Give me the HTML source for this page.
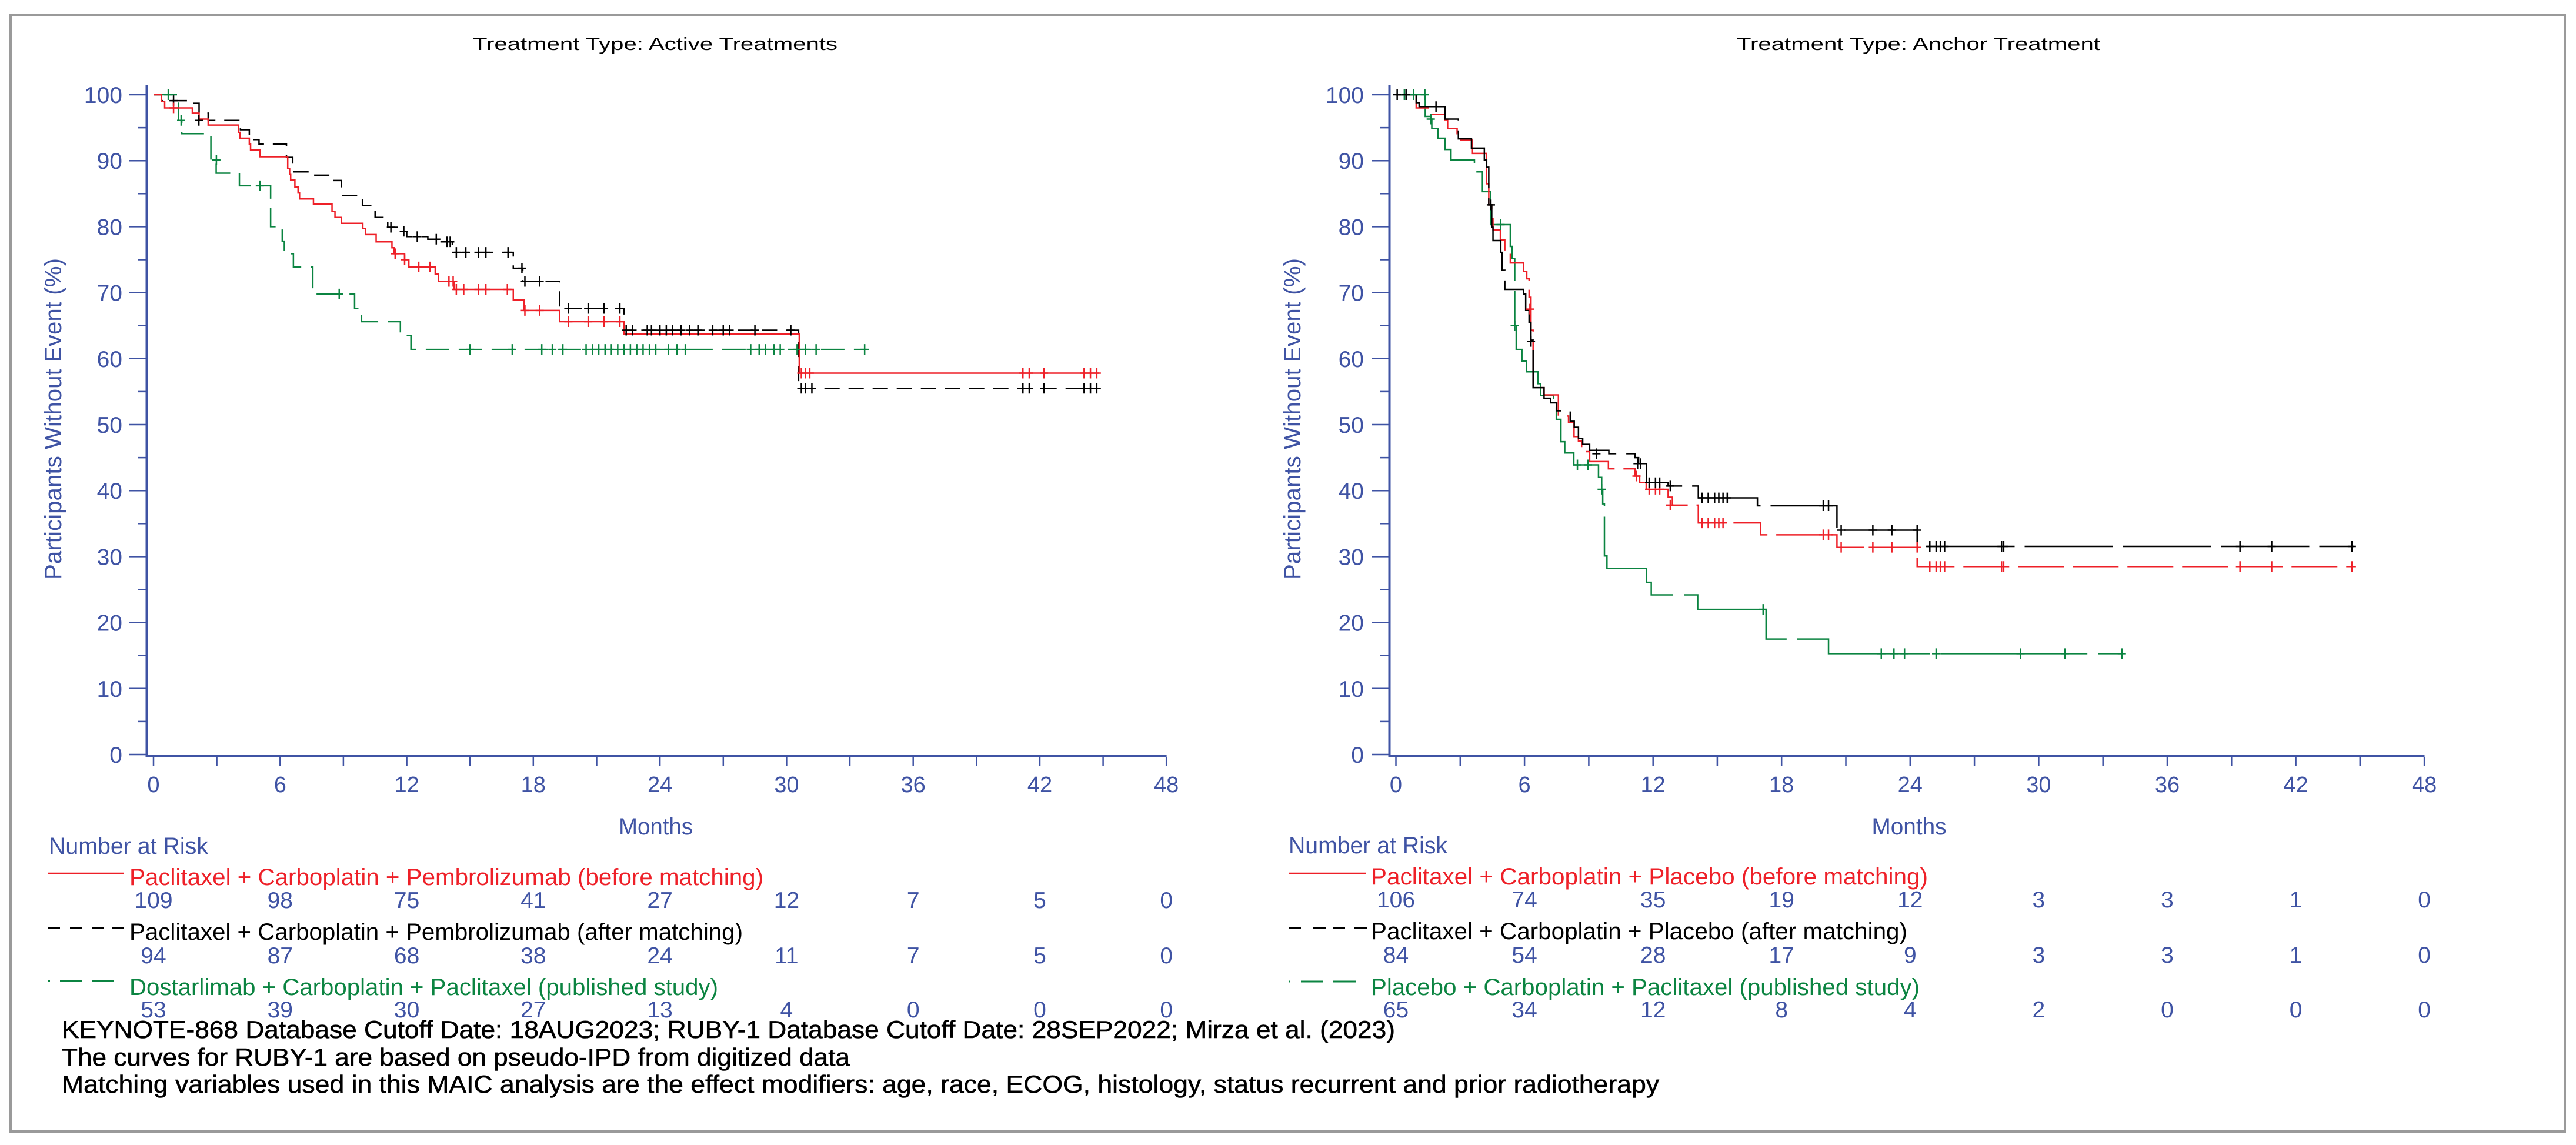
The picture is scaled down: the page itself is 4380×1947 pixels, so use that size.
<!DOCTYPE html>
<html><head><meta charset="utf-8"><style>html,body{margin:0;padding:0;background:#fff}svg{display:block}</style></head>
<body>
<svg xmlns="http://www.w3.org/2000/svg" width="4380" height="1947" viewBox="0 0 4380 1947" font-family="'Liberation Sans', Arial, sans-serif">
<rect width="4380" height="1947" fill="#fff"/>
<rect x="18" y="26" width="4343" height="1898" fill="none" stroke="#9a9a9a" stroke-width="4"/>

<!-- Titles -->
<text x="1114" y="85" font-size="31" text-anchor="middle" textLength="620" lengthAdjust="spacingAndGlyphs" fill="#000">Treatment Type: Active Treatments</text>
<text x="3262" y="85" font-size="31" text-anchor="middle" textLength="618" lengthAdjust="spacingAndGlyphs" fill="#000">Treatment Type: Anchor Treatment</text>

<!-- Y-axis titles -->
<text transform="translate(104,712.5) rotate(-90)" text-anchor="middle" font-size="40" fill="#3F53A4" textLength="547" lengthAdjust="spacingAndGlyphs">Participants Without Event (%)</text>
<text transform="translate(2211,712.5) rotate(-90)" text-anchor="middle" font-size="40" fill="#3F53A4" textLength="547" lengthAdjust="spacingAndGlyphs">Participants Without Event (%)</text>

<!-- Axes -->
<g stroke="#3F53A4" fill="none">
  <path d="M249.5,145V1288M247.5,1286H1983.6" stroke-width="4"/>
  <path d="M2362.5,145V1288M2360.5,1286H4122.5" stroke-width="4"/>
  <path stroke-width="2.5" d="M220,1283H247.5M220,1170.8H247.5M220,1058.6H247.5M220,946.4H247.5M220,834.2H247.5M220,722H247.5M220,609.8H247.5M220,497.6H247.5M220,385.4H247.5M220,273.2H247.5M220,161H247.5
  M235,1226.9H247.5M235,1114.7H247.5M235,1002.5H247.5M235,890.3H247.5M235,778.1H247.5M235,665.9H247.5M235,553.7H247.5M235,441.5H247.5M235,329.3H247.5M235,217.1H247.5"/>
  <path stroke-width="2.5" d="M2333,1283H2360.5M2333,1170.8H2360.5M2333,1058.6H2360.5M2333,946.4H2360.5M2333,834.2H2360.5M2333,722H2360.5M2333,609.8H2360.5M2333,497.6H2360.5M2333,385.4H2360.5M2333,273.2H2360.5M2333,161H2360.5
  M2346,1226.9H2360.5M2346,1114.7H2360.5M2346,1002.5H2360.5M2346,890.3H2360.5M2346,778.1H2360.5M2346,665.9H2360.5M2346,553.7H2360.5M2346,441.5H2360.5M2346,329.3H2360.5M2346,217.1H2360.5"/>
  <path stroke-width="2.5" d="M261,1288V1302M368.6,1288V1302M476.3,1288V1302M583.9,1288V1302M691.6,1288V1302M799.2,1288V1302M906.8,1288V1302M1014.5,1288V1302M1122.1,1288V1302M1229.8,1288V1302M1337.4,1288V1302M1445,1288V1302M1552.7,1288V1302M1660.3,1288V1302M1768,1288V1302M1875.6,1288V1302M1983.2,1288V1302"/>
  <path stroke-width="2.5" d="M2373.5,1288V1302M2482.8,1288V1302M2592.1,1288V1302M2701.4,1288V1302M2810.7,1288V1302M2919.9,1288V1302M3029.2,1288V1302M3138.5,1288V1302M3247.8,1288V1302M3357.1,1288V1302M3466.4,1288V1302M3575.7,1288V1302M3685,1288V1302M3794.3,1288V1302M3903.6,1288V1302M4012.8,1288V1302M4122.1,1288V1302"/>
</g>

<!-- Y tick labels -->
<g font-size="39" fill="#3F53A4" text-anchor="end">
  <text x="208" y="1297">0</text><text x="208" y="1184.8">10</text><text x="208" y="1072.6">20</text><text x="208" y="960.4">30</text><text x="208" y="848.2">40</text><text x="208" y="736">50</text><text x="208" y="623.8">60</text><text x="208" y="511.6">70</text><text x="208" y="399.4">80</text><text x="208" y="287.2">90</text><text x="208" y="175">100</text>
  <text x="2319" y="1297">0</text><text x="2319" y="1184.8">10</text><text x="2319" y="1072.6">20</text><text x="2319" y="960.4">30</text><text x="2319" y="848.2">40</text><text x="2319" y="736">50</text><text x="2319" y="623.8">60</text><text x="2319" y="511.6">70</text><text x="2319" y="399.4">80</text><text x="2319" y="287.2">90</text><text x="2319" y="175">100</text>
</g>

<!-- X tick labels -->
<g font-size="38" fill="#3F53A4" text-anchor="middle">
  <text x="261" y="1347">0</text><text x="476.3" y="1347">6</text><text x="691.6" y="1347">12</text><text x="906.8" y="1347">18</text><text x="1122.1" y="1347">24</text><text x="1337.4" y="1347">30</text><text x="1552.7" y="1347">36</text><text x="1768" y="1347">42</text><text x="1983.2" y="1347">48</text>
  <text x="2373.5" y="1347">0</text><text x="2592.1" y="1347">6</text><text x="2810.7" y="1347">12</text><text x="3029.2" y="1347">18</text><text x="3247.8" y="1347">24</text><text x="3466.4" y="1347">30</text><text x="3685" y="1347">36</text><text x="3903.6" y="1347">42</text><text x="4122.1" y="1347">48</text>
</g>

<!-- Months -->
<text x="1115" y="1419" font-size="40" fill="#3F53A4" text-anchor="middle" textLength="126" lengthAdjust="spacingAndGlyphs">Months</text>
<text x="3246" y="1419" font-size="40" fill="#3F53A4" text-anchor="middle" textLength="127" lengthAdjust="spacingAndGlyphs">Months</text>

<!-- LEFT curves -->
<g transform="translate(261,1283) scale(35.88,-11.22)" fill="none" stroke-width="2.5">
  <path vector-effect="non-scaling-stroke" stroke="#0B8441" stroke-dasharray="40 16" d="M0,100H1.19V96.1H1.34V94.1H2.72V90.1H2.97V88.1H4.07V86.2H5.55V80H6.1V77.8H6.2V75.9H6.63V73.9H7.55V69.8H9.53V67.6H9.86V65.6H11.7V63.5H12.2V61.4H33.8"/>
  <path vector-effect="non-scaling-stroke" stroke="#000" stroke-dasharray="26 15" d="M0,100H0.38V99.1H1.75V98.7H2.16V97.2H2.59V96.1H4.12V94.7H4.54V93.2H5V92.5H6.3V90.5H6.6V88.3H7.4V87.8H8.3V87H8.9V84.7H9.9V83.2H10.5V81.4H11.1V79.9H11.6V79.3H12V78.5H13V78.1H13.5V77.7H14.16V76.1H17.05V73.7H17.5V71.7H19.25V67.6H22.3V64.3H30.57V55.5H44.8"/>
  <path vector-effect="non-scaling-stroke" stroke="#EE2028" d="M0,100H0.38V99H0.53V98H1.84V97.2H2.16V96.3H2.59V95.4H4.02V94.3H4.1V93.4H4.54V92.5H4.6V91.6H5.05V90.6H6.36V88.8H6.45V87.9H6.5V87.1H6.7V86H6.85V85.1H6.92V84.2H7.58V83.4H8.46V82.3H8.6V81.4H8.9V80.5H9.92V79.7H10.05V78.8H10.55V77.7H11.3V76.8H11.4V75.9H11.9V75H12.1V73.9H13.35V72.8H13.5V71.7H14.25V70.5H17.05V68.9H17.56V67.3H19.25V65.6H22.3V63.7H30.6V57.8H44.8"/>
  <path vector-effect="non-scaling-stroke" stroke="#0B8441" d="M0.7,100m-.195,0h.39m-.195,-.8v1.6M1.31,96.1m-.195,0h.39m-.195,-.8v1.6M2.98,90.1m-.195,0h.39m-.195,-.8v1.6M5.04,86.2m-.195,0h.39m-.195,-.8v1.6M8.8,69.8m-.195,0h.39m-.195,-.8v1.6M15,61.4m-.195,0h.39m-.195,-.8v1.6M17,61.4m-.195,0h.39m-.195,-.8v1.6M18.4,61.4m-.195,0h.39m-.195,-.8v1.6M18.9,61.4m-.195,0h.39m-.195,-.8v1.6M19.4,61.4m-.195,0h.39m-.195,-.8v1.6M20.5,61.4m-.195,0h.39m-.195,-.8v1.6M20.8,61.4m-.195,0h.39m-.195,-.8v1.6M21.1,61.4m-.195,0h.39m-.195,-.8v1.6M21.4,61.4m-.195,0h.39m-.195,-.8v1.6M21.7,61.4m-.195,0h.39m-.195,-.8v1.6M22,61.4m-.195,0h.39m-.195,-.8v1.6M22.3,61.4m-.195,0h.39m-.195,-.8v1.6M22.6,61.4m-.195,0h.39m-.195,-.8v1.6M22.9,61.4m-.195,0h.39m-.195,-.8v1.6M23.2,61.4m-.195,0h.39m-.195,-.8v1.6M23.5,61.4m-.195,0h.39m-.195,-.8v1.6M23.8,61.4m-.195,0h.39m-.195,-.8v1.6M24.4,61.4m-.195,0h.39m-.195,-.8v1.6M24.8,61.4m-.195,0h.39m-.195,-.8v1.6M25.2,61.4m-.195,0h.39m-.195,-.8v1.6M28.3,61.4m-.195,0h.39m-.195,-.8v1.6M28.7,61.4m-.195,0h.39m-.195,-.8v1.6M29,61.4m-.195,0h.39m-.195,-.8v1.6M29.4,61.4m-.195,0h.39m-.195,-.8v1.6M29.7,61.4m-.195,0h.39m-.195,-.8v1.6M30.5,61.4m-.195,0h.39m-.195,-.8v1.6M30.9,61.4m-.195,0h.39m-.195,-.8v1.6M31.4,61.4m-.195,0h.39m-.195,-.8v1.6M33.7,61.4m-.195,0h.39m-.195,-.8v1.6"/>
  <path vector-effect="non-scaling-stroke" stroke="#000" d="M0.95,99.1m-.195,0h.39m-.195,-.8v1.6M2.15,96.1m-.195,0h.39m-.195,-.8v1.6M11.25,79.9m-.195,0h.39m-.195,-.8v1.6M11.86,79.3m-.195,0h.39m-.195,-.8v1.6M12.5,78.5m-.195,0h.39m-.195,-.8v1.6M13.4,78.1m-.195,0h.39m-.195,-.8v1.6M13.9,77.7m-.195,0h.39m-.195,-.8v1.6M14.06,77.7m-.195,0h.39m-.195,-.8v1.6M14.35,76.1m-.195,0h.39m-.195,-.8v1.6M14.8,76.1m-.195,0h.39m-.195,-.8v1.6M15.4,76.1m-.195,0h.39m-.195,-.8v1.6M15.75,76.1m-.195,0h.39m-.195,-.8v1.6M16.8,76.1m-.195,0h.39m-.195,-.8v1.6M17.46,73.7m-.195,0h.39m-.195,-.8v1.6M17.6,71.7m-.195,0h.39m-.195,-.8v1.6M18.3,71.7m-.195,0h.39m-.195,-.8v1.6M19.66,67.6m-.195,0h.39m-.195,-.8v1.6M20.6,67.6m-.195,0h.39m-.195,-.8v1.6M21.35,67.6m-.195,0h.39m-.195,-.8v1.6M22.1,67.6m-.195,0h.39m-.195,-.8v1.6M22.4,64.3m-.195,0h.39m-.195,-.8v1.6M22.7,64.3m-.195,0h.39m-.195,-.8v1.6M23.4,64.3m-.195,0h.39m-.195,-.8v1.6M23.6,64.3m-.195,0h.39m-.195,-.8v1.6M24,64.3m-.195,0h.39m-.195,-.8v1.6M24.3,64.3m-.195,0h.39m-.195,-.8v1.6M24.6,64.3m-.195,0h.39m-.195,-.8v1.6M25,64.3m-.195,0h.39m-.195,-.8v1.6M25.4,64.3m-.195,0h.39m-.195,-.8v1.6M25.8,64.3m-.195,0h.39m-.195,-.8v1.6M26.5,64.3m-.195,0h.39m-.195,-.8v1.6M27,64.3m-.195,0h.39m-.195,-.8v1.6M27.3,64.3m-.195,0h.39m-.195,-.8v1.6M28.5,64.3m-.195,0h.39m-.195,-.8v1.6M30.2,64.3m-.195,0h.39m-.195,-.8v1.6M30.7,55.5m-.195,0h.39m-.195,-.8v1.6M30.9,55.5m-.195,0h.39m-.195,-.8v1.6M31.2,55.5m-.195,0h.39m-.195,-.8v1.6M41.2,55.5m-.195,0h.39m-.195,-.8v1.6M41.5,55.5m-.195,0h.39m-.195,-.8v1.6M42.2,55.5m-.195,0h.39m-.195,-.8v1.6M44.1,55.5m-.195,0h.39m-.195,-.8v1.6M44.4,55.5m-.195,0h.39m-.195,-.8v1.6M44.7,55.5m-.195,0h.39m-.195,-.8v1.6"/>
  <path vector-effect="non-scaling-stroke" stroke="#EE2028" d="M0.95,98m-.195,0h.39m-.195,-.8v1.6M11.45,75.9m-.195,0h.39m-.195,-.8v1.6M11.9,75m-.195,0h.39m-.195,-.8v1.6M12.57,73.9m-.195,0h.39m-.195,-.8v1.6M13.1,73.9m-.195,0h.39m-.195,-.8v1.6M14,71.7m-.195,0h.39m-.195,-.8v1.6M14.2,71.7m-.195,0h.39m-.195,-.8v1.6M14.35,70.5m-.195,0h.39m-.195,-.8v1.6M14.7,70.5m-.195,0h.39m-.195,-.8v1.6M15.4,70.5m-.195,0h.39m-.195,-.8v1.6M15.75,70.5m-.195,0h.39m-.195,-.8v1.6M16.77,70.5m-.195,0h.39m-.195,-.8v1.6M17.6,67.3m-.195,0h.39m-.195,-.8v1.6M18.3,67.3m-.195,0h.39m-.195,-.8v1.6M19.66,65.6m-.195,0h.39m-.195,-.8v1.6M20.6,65.6m-.195,0h.39m-.195,-.8v1.6M21.35,65.6m-.195,0h.39m-.195,-.8v1.6M22.1,65.6m-.195,0h.39m-.195,-.8v1.6M30.7,57.8m-.195,0h.39m-.195,-.8v1.6M30.9,57.8m-.195,0h.39m-.195,-.8v1.6M31.1,57.8m-.195,0h.39m-.195,-.8v1.6M41.2,57.8m-.195,0h.39m-.195,-.8v1.6M41.5,57.8m-.195,0h.39m-.195,-.8v1.6M42.2,57.8m-.195,0h.39m-.195,-.8v1.6M44.1,57.8m-.195,0h.39m-.195,-.8v1.6M44.4,57.8m-.195,0h.39m-.195,-.8v1.6M44.7,57.8m-.195,0h.39m-.195,-.8v1.6"/>
</g>

<!-- RIGHT curves -->
<g transform="translate(2373.5,1283) scale(35.88,-11.22)" fill="none" stroke-width="2.5">
  <path vector-effect="non-scaling-stroke" stroke="#0B8441" stroke-dasharray="250 18" d="M0,100H1.39V96.7H1.65V96.3H1.7V94.9H1.99V93.4H2.32V91.7H2.61V90.1H3.72V88.3H4.1V85.3H4.48V80.3H5.42V77H5.5V75.2H5.63V65H5.7V61.4H5.97V59.6H6.19V58H6.73V56.2H6.85V54.4H7.47V52.8H7.6V50.8H7.82V47.4H8V45.7H8.43V43.9H9.6V42H9.75V40.2H9.8V38H9.88V30.1H10V28.2H11.88V26.1H12.1V24.2H14.3V22H17.54V17.5H20.5V15.3H34.4"/>
  <path vector-effect="non-scaling-stroke" stroke="#EE2028" stroke-dasharray="78 15" d="M0,100H0.96V98H1.67V97H2.32V96.2H2.45V94.9H2.9V94.1H2.96V93.1H3.63V91.1H4.29V86.5H4.4V83.3H4.54V81.2H4.6V79.5H4.95V78H5.16V76.1H5.42V74.5H6.05V73.2H6.2V72.1H6.31V69.3H6.4V64.3H6.5V55.6H7.02V54.5H7.7V51.3H8.18V50.3H8.44V48.2H8.65V47.5H8.8V45.9H9.18V44.4H10.07V43.3H11.33V42.2H11.55V41.2H11.86V40.2H12.9V39H13.1V37.8H14.33V35.1H17.28V33.3H20.9V31.4H24.7V28.5H45.4"/>
  <path vector-effect="non-scaling-stroke" stroke="#000" stroke-dasharray="150 17" d="M0,100H0.96V98.8H1.1V98.2H2.33V96.3H2.96V93.3H3.58V91.9H4.19V90.1H4.3V89H4.4V83.3H4.54V79.9H4.6V77.9H4.97V76.1H5.03V73.4H5.16V70.5H6.05V69.8H6.15V67.4H6.31V65.5H6.4V62.8H6.5V55.6H7.02V54H7.33V53.3H7.62V52.1H8.26V50.5H8.45V49.6H8.65V47.9H8.85V47H9.18V46.1H10.09V45.6H11.33V45H11.5V44.1H11.88V41.2H12.9V40.7H14.33V38.9H17.13V37.7H20.9V34H24.7V31.55H45.4"/>
  <path vector-effect="non-scaling-stroke" stroke="#0B8441" d="M0.4,100m-.195,0h.39m-.195,-.8v1.6M0.83,100m-.195,0h.39m-.195,-.8v1.6M1.37,100m-.195,0h.39m-.195,-.8v1.6M1.65,96.3m-.195,0h.39m-.195,-.8v1.6M4.96,80.3m-.195,0h.39m-.195,-.8v1.6M5.63,65m-.195,0h.39m-.195,-.8v1.6M8.6,43.9m-.195,0h.39m-.195,-.8v1.6M9.1,43.9m-.195,0h.39m-.195,-.8v1.6M9.75,40.2m-.195,0h.39m-.195,-.8v1.6M17.4,22m-.195,0h.39m-.195,-.8v1.6M23,15.3m-.195,0h.39m-.195,-.8v1.6M23.6,15.3m-.195,0h.39m-.195,-.8v1.6M24.1,15.3m-.195,0h.39m-.195,-.8v1.6M25.6,15.3m-.195,0h.39m-.195,-.8v1.6M29.6,15.3m-.195,0h.39m-.195,-.8v1.6M31.7,15.3m-.195,0h.39m-.195,-.8v1.6M34.4,15.3m-.195,0h.39m-.195,-.8v1.6"/>
  <path vector-effect="non-scaling-stroke" stroke="#EE2028" d="M6.35,67.5m-.195,0h.39m-.195,-.8v1.6M11.4,42.2m-.195,0h.39m-.195,-.8v1.6M12,40.2m-.195,0h.39m-.195,-.8v1.6M12.3,40.2m-.195,0h.39m-.195,-.8v1.6M12.5,40.2m-.195,0h.39m-.195,-.8v1.6M13,37.8m-.195,0h.39m-.195,-.8v1.6M14.5,35.1m-.195,0h.39m-.195,-.8v1.6M14.8,35.1m-.195,0h.39m-.195,-.8v1.6M15.1,35.1m-.195,0h.39m-.195,-.8v1.6M15.3,35.1m-.195,0h.39m-.195,-.8v1.6M15.5,35.1m-.195,0h.39m-.195,-.8v1.6M20.25,33.3m-.195,0h.39m-.195,-.8v1.6M20.5,33.3m-.195,0h.39m-.195,-.8v1.6M21.1,31.4m-.195,0h.39m-.195,-.8v1.6M22.6,31.4m-.195,0h.39m-.195,-.8v1.6M23.5,31.4m-.195,0h.39m-.195,-.8v1.6M24.7,31.4m-.195,0h.39m-.195,-.8v1.6M25.3,28.5m-.195,0h.39m-.195,-.8v1.6M25.6,28.5m-.195,0h.39m-.195,-.8v1.6M25.8,28.5m-.195,0h.39m-.195,-.8v1.6M26,28.5m-.195,0h.39m-.195,-.8v1.6M28.7,28.5m-.195,0h.39m-.195,-.8v1.6M28.8,28.5m-.195,0h.39m-.195,-.8v1.6M40,28.5m-.195,0h.39m-.195,-.8v1.6M41.5,28.5m-.195,0h.39m-.195,-.8v1.6M45.3,28.5m-.195,0h.39m-.195,-.8v1.6"/>
  <path vector-effect="non-scaling-stroke" stroke="#000" d="M0.06,100m-.195,0h.39m-.195,-.8v1.6M0.48,100m-.195,0h.39m-.195,-.8v1.6M1.9,98.2m-.195,0h.39m-.195,-.8v1.6M4.5,83.3m-.195,0h.39m-.195,-.8v1.6M6.4,62.6m-.195,0h.39m-.195,-.8v1.6M9.5,45.6m-.195,0h.39m-.195,-.8v1.6M11.45,44.1m-.195,0h.39m-.195,-.8v1.6M11.6,44.1m-.195,0h.39m-.195,-.8v1.6M12,41.2m-.195,0h.39m-.195,-.8v1.6M12.3,41.2m-.195,0h.39m-.195,-.8v1.6M12.5,41.2m-.195,0h.39m-.195,-.8v1.6M13,40.7m-.195,0h.39m-.195,-.8v1.6M14.5,38.9m-.195,0h.39m-.195,-.8v1.6M14.8,38.9m-.195,0h.39m-.195,-.8v1.6M15.1,38.9m-.195,0h.39m-.195,-.8v1.6M15.3,38.9m-.195,0h.39m-.195,-.8v1.6M15.5,38.9m-.195,0h.39m-.195,-.8v1.6M15.7,38.9m-.195,0h.39m-.195,-.8v1.6M20.25,37.7m-.195,0h.39m-.195,-.8v1.6M20.5,37.7m-.195,0h.39m-.195,-.8v1.6M21.1,34m-.195,0h.39m-.195,-.8v1.6M22.6,34m-.195,0h.39m-.195,-.8v1.6M23.5,34m-.195,0h.39m-.195,-.8v1.6M24.7,34m-.195,0h.39m-.195,-.8v1.6M25.3,31.55m-.195,0h.39m-.195,-.8v1.6M25.6,31.55m-.195,0h.39m-.195,-.8v1.6M25.8,31.55m-.195,0h.39m-.195,-.8v1.6M26,31.55m-.195,0h.39m-.195,-.8v1.6M28.7,31.55m-.195,0h.39m-.195,-.8v1.6M28.8,31.55m-.195,0h.39m-.195,-.8v1.6M40,31.55m-.195,0h.39m-.195,-.8v1.6M41.5,31.55m-.195,0h.39m-.195,-.8v1.6M45.3,31.55m-.195,0h.39m-.195,-.8v1.6"/>
</g>

<!-- Number at risk: LEFT -->
<text x="83" y="1452" font-size="40" fill="#3F53A4" textLength="271" lengthAdjust="spacingAndGlyphs">Number at Risk</text>
<path d="M82,1485H210" stroke="#EE2028" stroke-width="2.5"/>
<path d="M82,1578H102M119,1578H139M156,1578H176M190,1578H210" stroke="#000" stroke-width="3"/>
<path d="M82,1668H85M102,1668H140M156,1668H194" stroke="#0B8441" stroke-width="3"/>
<text x="220" y="1505" font-size="40" fill="#EE2028" textLength="1078" lengthAdjust="spacingAndGlyphs">Paclitaxel + Carboplatin + Pembrolizumab (before matching)</text>
<text x="220" y="1598" font-size="40" fill="#000" textLength="1043" lengthAdjust="spacingAndGlyphs">Paclitaxel + Carboplatin + Pembrolizumab (after matching)</text>
<text x="220" y="1692" font-size="40" fill="#0B8441" textLength="1001" lengthAdjust="spacingAndGlyphs">Dostarlimab + Carboplatin + Paclitaxel (published study)</text>
<g font-size="39" fill="#3F53A4" text-anchor="middle">
  <text x="261" y="1544">109</text><text x="476.3" y="1544">98</text><text x="691.6" y="1544">75</text><text x="906.8" y="1544">41</text><text x="1122.1" y="1544">27</text><text x="1337.4" y="1544">12</text><text x="1552.7" y="1544">7</text><text x="1768" y="1544">5</text><text x="1983.2" y="1544">0</text>
  <text x="261" y="1638">94</text><text x="476.3" y="1638">87</text><text x="691.6" y="1638">68</text><text x="906.8" y="1638">38</text><text x="1122.1" y="1638">24</text><text x="1337.4" y="1638">11</text><text x="1552.7" y="1638">7</text><text x="1768" y="1638">5</text><text x="1983.2" y="1638">0</text>
  <text x="261" y="1730">53</text><text x="476.3" y="1730">39</text><text x="691.6" y="1730">30</text><text x="906.8" y="1730">27</text><text x="1122.1" y="1730">13</text><text x="1337.4" y="1730">4</text><text x="1552.7" y="1730">0</text><text x="1768" y="1730">0</text><text x="1983.2" y="1730">0</text>
</g>

<!-- Number at risk: RIGHT -->
<text x="2191" y="1451" font-size="40" fill="#3F53A4" textLength="270" lengthAdjust="spacingAndGlyphs">Number at Risk</text>
<path d="M2191,1485H2322.5" stroke="#EE2028" stroke-width="2.5"/>
<path d="M2191,1578H2212M2233,1578H2254M2266,1578H2287M2303,1578H2324" stroke="#000" stroke-width="3"/>
<path d="M2191,1669H2194M2212,1669H2249M2266,1669H2306" stroke="#0B8441" stroke-width="3"/>
<text x="2331" y="1504" font-size="40" fill="#EE2028" textLength="947" lengthAdjust="spacingAndGlyphs">Paclitaxel + Carboplatin + Placebo (before matching)</text>
<text x="2331" y="1597" font-size="40" fill="#000" textLength="912" lengthAdjust="spacingAndGlyphs">Paclitaxel + Carboplatin + Placebo (after matching)</text>
<text x="2331" y="1692" font-size="40" fill="#0B8441" textLength="933" lengthAdjust="spacingAndGlyphs">Placebo + Carboplatin + Paclitaxel (published study)</text>
<g font-size="39" fill="#3F53A4" text-anchor="middle">
  <text x="2373.5" y="1543">106</text><text x="2592.1" y="1543">74</text><text x="2810.7" y="1543">35</text><text x="3029.2" y="1543">19</text><text x="3247.8" y="1543">12</text><text x="3466.4" y="1543">3</text><text x="3685" y="1543">3</text><text x="3903.6" y="1543">1</text><text x="4122.1" y="1543">0</text>
  <text x="2373.5" y="1637">84</text><text x="2592.1" y="1637">54</text><text x="2810.7" y="1637">28</text><text x="3029.2" y="1637">17</text><text x="3247.8" y="1637">9</text><text x="3466.4" y="1637">3</text><text x="3685" y="1637">3</text><text x="3903.6" y="1637">1</text><text x="4122.1" y="1637">0</text>
  <text x="2373.5" y="1730">65</text><text x="2592.1" y="1730">34</text><text x="2810.7" y="1730">12</text><text x="3029.2" y="1730">8</text><text x="3247.8" y="1730">4</text><text x="3466.4" y="1730">2</text><text x="3685" y="1730">0</text><text x="3903.6" y="1730">0</text><text x="4122.1" y="1730">0</text>
</g>

<!-- Footnotes -->
<g font-size="42" fill="#000" stroke="#000" stroke-width="0.6">
  <text x="105" y="1765" textLength="2267" lengthAdjust="spacingAndGlyphs">KEYNOTE-868 Database Cutoff Date: 18AUG2023; RUBY-1 Database Cutoff Date: 28SEP2022; Mirza et al. (2023)</text>
  <text x="105" y="1812" textLength="1340" lengthAdjust="spacingAndGlyphs">The curves for RUBY-1 are based on pseudo-IPD from digitized data</text>
  <text x="105" y="1858" textLength="2716" lengthAdjust="spacingAndGlyphs">Matching variables used in this MAIC analysis are the effect modifiers: age, race, ECOG, histology, status recurrent and prior radiotherapy</text>
</g>
</svg>
</body></html>
